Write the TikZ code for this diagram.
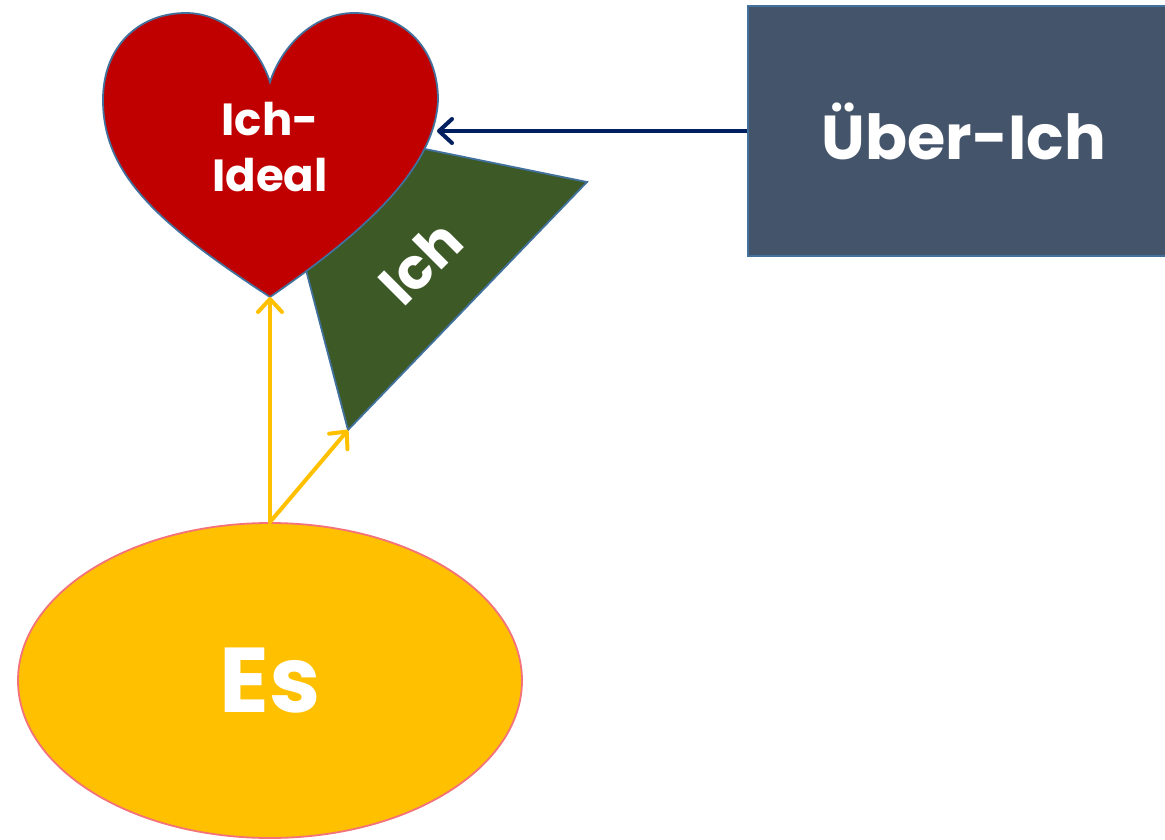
\documentclass[tikz,border=0pt]{standalone}
\usepackage{fontspec}
\setmainfont{Poppins}
\usetikzlibrary{arrows.meta,shapes.geometric}

\definecolor{heartred}{HTML}{C00000}
\definecolor{ichgreen}{HTML}{3C5926}
\definecolor{esgold}{HTML}{FFC000}
\definecolor{boxslate}{HTML}{44546A}
\definecolor{rimblue}{HTML}{41719C}
\definecolor{espink}{HTML}{F4727A}
\definecolor{arrownavy}{HTML}{002060}

\begin{document}
\begin{tikzpicture}
[x=1pt,y=-1pt,
 lbl/.style={text=white,font=\bfseries},
 rim/.style={draw=rimblue,line width=1.8pt},
 goldarrow/.style={draw=esgold,line width=4pt,line cap=round,
   -{Straight Barb[length=13pt,width=24pt,line cap=round,line join=round]}},
 navyarrow/.style={draw=arrownavy,line width=4pt,
   -{Straight Barb[length=13pt,width=24pt,line cap=round,line join=round]}}]
\useasboundingbox (0,0) rectangle (1165,839);
\clip (0,0) rectangle (1165,839);

% Ich
\coordinate (ichfoot) at (348,430);
\draw[rim,fill=ichgreen] (420,148) -- (587,182) -- (ichfoot) -- (306,270) -- cycle;
\node[lbl,rotate=45,font=\bfseries\fontsize{57}{57}\selectfont] (ichtxt) at (420,262) {Ich};

% Ich-Ideal
\coordinate (tip) at (270,297);
\coordinate (idealrim) at (437,131);
\draw[rim,fill=heartred] (tip) .. controls (160,225) and (103,175) .. (103,100)
  .. controls (103,45) and (140,13) .. (186,13)
  .. controls (225,13) and (258,45) .. (270,82)
  .. controls (282,45) and (315,13) .. (354,13)
  .. controls (400,13) and (438,45) .. (438,100)
  .. controls (435,170) and (360,235) .. (tip) -- cycle;
\node[lbl,align=center,font=\bfseries\fontsize{45}{56}\selectfont] (idealtxt) at (270,147) {Ich-\\Ideal};

% Ueber-Ich
\node[rim,fill=boxslate,lbl,minimum width=432pt,minimum height=250pt,
  font=\bfseries\fontsize{62}{62}\selectfont] (ueber) at (964,131) {Über-Ich};

% Es
\node[ellipse,draw=espink,line width=1.8pt,fill=esgold,lbl,inner sep=0pt,
  minimum width=504pt,minimum height=315pt,
  font=\bfseries\fontsize{92}{92}\selectfont] (es) at (270,680.5) {\raisebox{-5pt}{Es}};

\draw[navyarrow] (ueber.west) -- (idealrim);
\draw[goldarrow] (es.north) -- (tip);
\draw[goldarrow] (es.north) -- (ichfoot);
\end{tikzpicture}
\end{document}
